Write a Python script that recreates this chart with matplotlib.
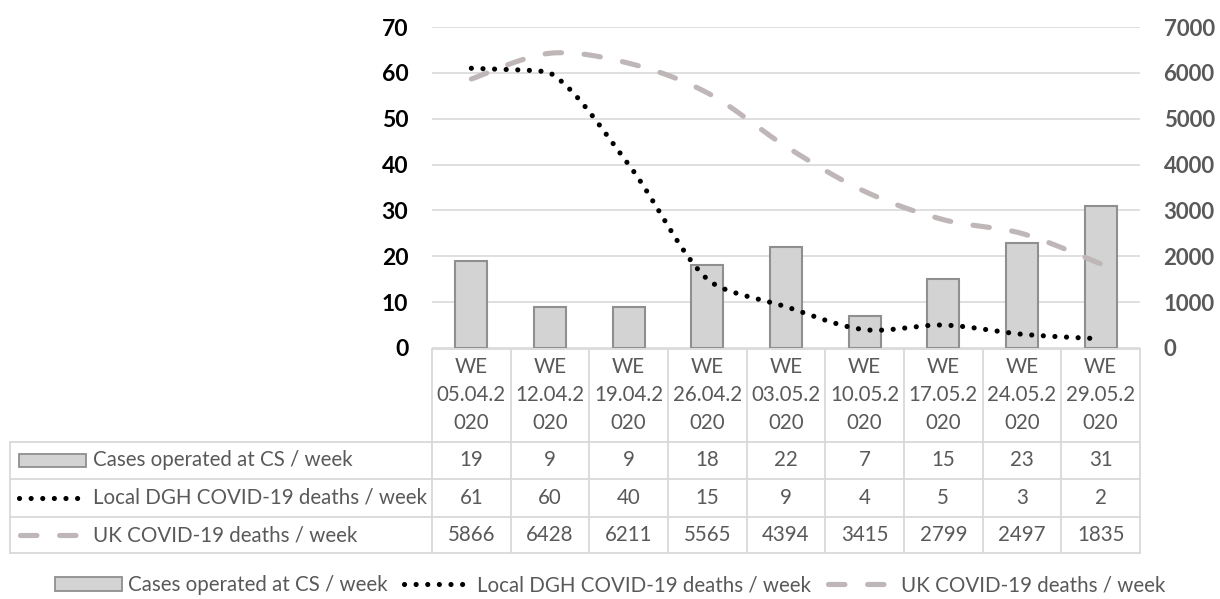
import matplotlib
matplotlib.use("Agg")
import matplotlib.pyplot as plt
import numpy as np
from matplotlib import transforms
from matplotlib.patches import Rectangle, Patch
from matplotlib.lines import Line2D

plt.rcParams['font.family'] = ['Lato', 'DejaVu Sans']

# data
week_ending = ['05.04.2020', '12.04.2020', '19.04.2020', '26.04.2020', '03.05.2020',
               '10.05.2020', '17.05.2020', '24.05.2020', '29.05.2020']
cases_cs = [19, 9, 9, 18, 22, 7, 15, 23, 31]
local_deaths = [61, 60, 40, 15, 9, 4, 5, 3, 2]
uk_deaths = [5866, 6428, 6211, 5565, 4394, 3415, 2799, 2497, 1835]
series_names = ['Cases operated at CS / week', 'Local DGH COVID-19 deaths / week',
                'UK COVID-19 deaths / week']

TXT = '#595959'
GRID = '#d9d9d9'
BAR_FC = '#d3d3d3'
BAR_EC = '#8f8f8f'
UK_C = '#bfb7b7'

W, H = 1220, 599
AX_L, AX_R, AX_T, AX_B = 432, 1140, 27, 348


def smooth(xs, ys, n=40):
    # Excel style smoothed line: bezier segments, handles clipped on short segments
    p = np.column_stack([xs, ys]).astype(float)
    out = []
    for i in range(len(p) - 1):
        p0, p1, p2 = p[max(i - 1, 0)], p[i], p[i + 1]
        p3 = p[min(i + 2, len(p) - 1)]
        d12 = np.linalg.norm(p2 - p1)
        d02 = np.linalg.norm(p2 - p0)
        d13 = np.linalg.norm(p3 - p1)
        f1 = 1 / 6 if d02 / 6 < d12 / 2 else d12 / (2 * d02)
        f2 = 1 / 6 if d13 / 6 < d12 / 2 else d12 / (2 * d13)
        c1 = p1 + f1 * (p2 - p0)
        c2 = p2 - f2 * (p3 - p1)
        t = np.linspace(0, 1, n)[:, None]
        seg = (1 - t) ** 3 * p1 + 3 * (1 - t) ** 2 * t * c1 + 3 * (1 - t) * t ** 2 * c2 + t ** 3 * p2
        out.append(seg if i == 0 else seg[1:])
    s = np.vstack(out)
    return s[:, 0], s[:, 1]


fig = plt.figure(figsize=(W / 100, H / 100), dpi=100)
ax = fig.add_axes([AX_L / W, 1 - AX_B / H, (AX_R - AX_L) / W, (AX_B - AX_T) / H])
ax2 = ax.twinx()

x = np.arange(len(week_ending))
ax.bar(x, cases_cs, width=0.41, color=BAR_FC, edgecolor=BAR_EC, linewidth=1.5, zorder=2)
ax.set_xlim(-0.5, len(x) - 0.5)
ax.set_ylim(0, 70)
ax.set_yticks(range(0, 71, 10))
ax.yaxis.grid(True, color=GRID, linewidth=1.2)
ax.set_axisbelow(True)
ax.set_xticks([])

ax2.set_ylim(0, 7000)
ax2.set_yticks(range(0, 7001, 1000))

sx, sy = smooth(x, uk_deaths)
ax2.plot(sx, sy, color=UK_C, linewidth=3.7, linestyle=(0, (3.2, 4.4)),
         dash_capstyle='round', zorder=3)
sx, sy = smooth(x, local_deaths)
ax2.plot(sx, sy, color='black', linewidth=3.7, linestyle=(0, (0.01, 2.25)),
         dash_capstyle='round', transform=ax.transData, zorder=4)

for a in (ax, ax2):
    for sp in a.spines.values():
        sp.set_visible(False)
    a.tick_params(length=0)
ax.tick_params(axis='y', pad=17, labelsize=16.5, labelcolor='black')
ax2.tick_params(axis='y', pad=17, labelsize=16, labelcolor=TXT)
for lab in ax.get_yticklabels() + ax2.get_yticklabels():
    lab.set_fontweight('bold')


# data table below the plot
def fy(p):
    return (AX_B - p) / (AX_B - AX_T)


def fx(p):
    return (p - AX_L) / (AX_R - AX_L)


bt = transforms.blended_transform_factory(ax.transData, ax.transAxes)
row_lines = [349, 442, 479, 517, 553]
lkw = dict(color=GRID, linewidth=1.3, clip_on=False)
for b in np.arange(-0.5, len(x), 1.0):
    ax.plot([b, b], [fy(349), fy(553)], transform=bt, **lkw)
ax.plot([fx(10), fx(10)], [fy(442), fy(553)], transform=ax.transAxes, **lkw)
ax.plot([0, 1], [fy(349), fy(349)], transform=ax.transAxes, **lkw)
for r in row_lines[1:]:
    ax.plot([fx(10), 1], [fy(r), fy(r)], transform=ax.transAxes, **lkw)

fs = 14.8
for i, d in enumerate(week_ending):
    ax.text(i, fy(395), 'WE\n' + d[:7] + '\n' + d[7:], transform=bt, ha='center',
            va='center', fontsize=fs, color=TXT, linespacing=1.5)
rows = [cases_cs, local_deaths, uk_deaths]
for r, vals in enumerate(rows):
    yc = fy((row_lines[r + 1] + row_lines[r + 2]) / 2)
    for i, v in enumerate(vals):
        ax.text(i, yc, str(v), transform=bt, ha='center', va='center',
                fontsize=fs, color=TXT)
    ax.text(fx(93), yc, series_names[r], transform=ax.transAxes, ha='left',
            va='center', fontsize=fs, color=TXT)

# legend keys inside the table
y1 = fy(460.5)
ax.add_patch(Rectangle((fx(19), y1 - 0.02), fx(86) - fx(19), 0.04,
                       transform=ax.transAxes, facecolor=BAR_FC, edgecolor=BAR_EC,
                       linewidth=1.3, clip_on=False))
y2 = fy(498)
ax.plot([fx(19), fx(83)], [y2, y2], transform=ax.transAxes, color='black',
        linewidth=3.7, linestyle=(0, (0.01, 2.25)), dash_capstyle='round', clip_on=False)
y3 = fy(535)
ax.plot([fx(20), fx(82)], [y3, y3], transform=ax.transAxes, color=UK_C,
        linewidth=3.7, linestyle=(0, (3.2, 4.4)), dash_capstyle='round', clip_on=False)

handles = [Patch(facecolor=BAR_FC, edgecolor=BAR_EC, linewidth=1.3),
           Line2D([], [], color='black', linewidth=3.7, linestyle=(0, (0.01, 2.25)),
                  dash_capstyle='round'),
           Line2D([], [], color=UK_C, linewidth=3.7, linestyle=(0, (3.2, 4.4)),
                  dash_capstyle='round')]
leg = fig.legend(handles, series_names, loc='center', bbox_to_anchor=(0.5, 1 - 585 / H),
                 ncol=3, frameon=False, fontsize=fs, handlelength=3.25,
                 handletextpad=0.3, columnspacing=0.8)
for t in leg.get_texts():
    t.set_color(TXT)

fig.savefig('out.png', dpi=100)
